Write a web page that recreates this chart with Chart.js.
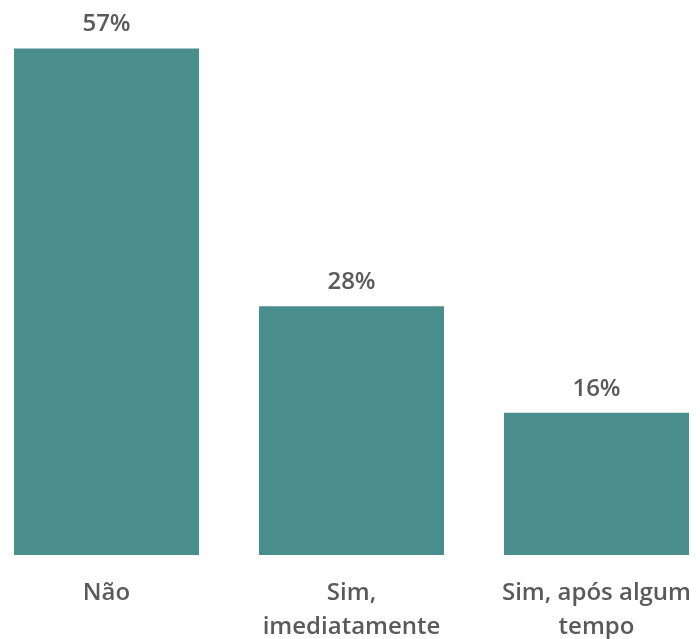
<!DOCTYPE html>
<html>
<head>
<meta charset="utf-8">
<script src="https://cdn.jsdelivr.net/npm/chart.js@4/dist/chart.umd.min.js"></script>
<style>
  html, body { margin: 0; padding: 0; background: #ffffff; overflow: hidden; width: 700px; height: 639px; }
  #wrap { position: absolute; left: -16px; top: 0; width: 735px; height: 639px; }
</style>
</head>
<body>
<div id="wrap"><canvas id="c" width="735" height="639"></canvas></div>
<script>
// Survey answers and their shares (%)
const categories = [["Não"], ["Sim,", "imediatamente"], ["Sim, após algum", "tempo"]];
const shares = [57, 28, 16];
const valueLabels = ["57%", "28%", "16%"];

const BAR_COLOR = "#4a8d8d";
const TEXT_COLOR = "#5a5a5a";
const FONT = "'Open Sans', sans-serif";

// Writes the percentage above each bar
const barValueLabels = {
  id: "barValueLabels",
  afterDatasetsDraw(chart) {
    const ctx = chart.ctx;
    const meta = chart.getDatasetMeta(0);
    ctx.save();
    ctx.font = "600 24px " + FONT;
    ctx.fillStyle = TEXT_COLOR;
    ctx.textAlign = "center";
    ctx.textBaseline = "middle";
    meta.data.forEach((bar, i) => {
      ctx.fillText(valueLabels[i], bar.x, bar.y - 24);
    });
    ctx.restore();
  }
};

new Chart(document.getElementById("c"), {
  type: "bar",
  data: {
    labels: categories,
    datasets: [{
      data: shares,
      backgroundColor: BAR_COLOR,
      borderWidth: 0,
      barPercentage: 0.755,
      categoryPercentage: 1.0
    }]
  },
  options: {
    responsive: false,
    animation: false,
    devicePixelRatio: 1,
    layout: { padding: 0 },
    plugins: {
      legend: { display: false },
      tooltip: { enabled: false }
    },
    scales: {
      x: {
        grid: { display: false, drawTicks: false },
        border: { display: false },
        ticks: {
          color: TEXT_COLOR,
          font: { family: FONT, size: 24, weight: "600", lineHeight: 1.417 },
          padding: 21,
          maxRotation: 0,
          autoSkip: false
        },
        afterFit(scale) { scale.height = 84; }
      },
      y: {
        display: false,
        min: 0,
        max: 62.46
      }
    }
  },
  plugins: [barValueLabels]
});
</script>
</body>
</html>
